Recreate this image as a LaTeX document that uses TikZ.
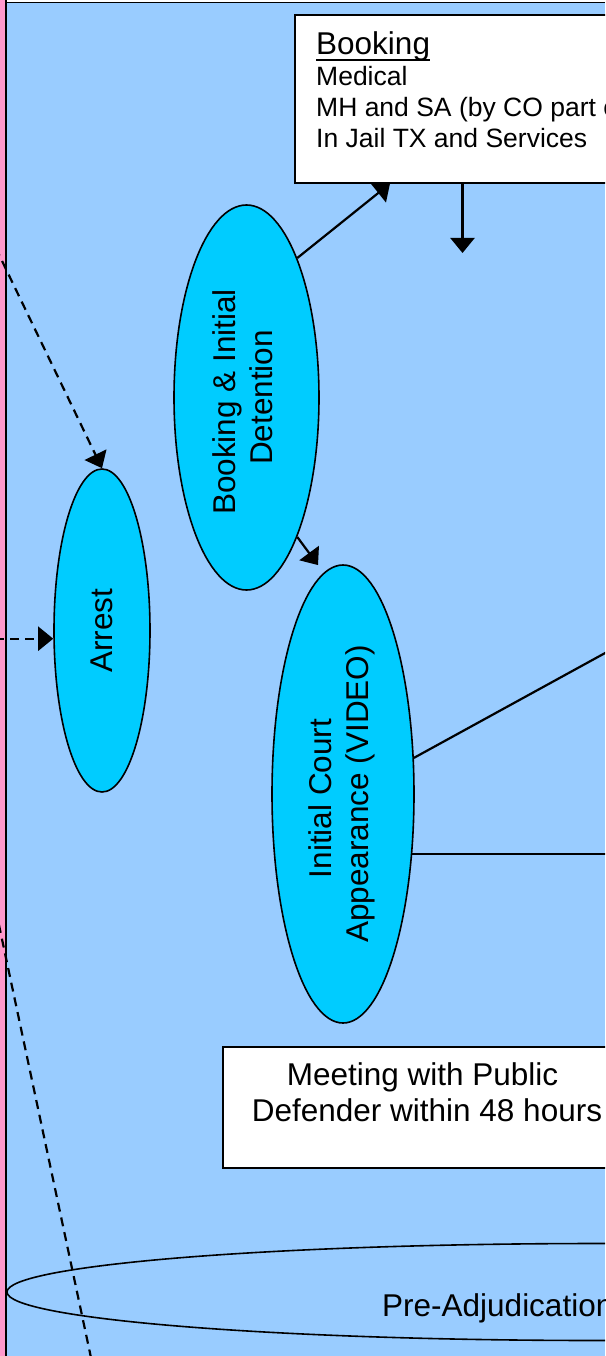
\documentclass[tikz,border=0pt]{standalone}
\usepackage{fontspec}
\setmainfont{Liberation Sans}
\usetikzlibrary{arrows.meta,shapes.geometric}
\definecolor{bgblue}{HTML}{99CCFF}
\definecolor{elblue}{HTML}{00CCFF}
\definecolor{stripc}{HTML}{FF99CC}
\newsavebox\ulbox
\newcommand\myul[1]{\leavevmode\sbox\ulbox{#1}\rlap{\rule[-6.3pt]{\wd\ulbox}{2pt}}\usebox\ulbox}
\begin{document}
\begin{tikzpicture}[x=1pt,y=-1pt,
  oval/.style={ellipse, draw, line width=1.6pt, fill=elblue, inner sep=0pt},
  lbl/.style={font=\fontsize{31.5}{37}\selectfont},
  boxst/.style={draw, line width=1.6pt, fill=white, inner sep=0pt},
  arr/.style={line width=2.2pt, -{Triangle[length=15pt,width=24pt]}},
  dsh/.style={line width=2.2pt, dash pattern=on 9pt off 6pt},
  plain/.style={line width=2.2pt}]
\useasboundingbox (0,0) rectangle (605,1356);
\clip (0,0) rectangle (605,1356);
% background
\fill[stripc] (0,0) rectangle (6.5,1356);
\fill[white] (6.5,0) rectangle (605,2.7);
\fill[bgblue] (6.5,2.7) rectangle (605,1356);
\draw[line width=1.4pt] (6.5,2.7) -- (605,2.7);
\draw[line width=2.2pt] (6.2,0) -- (6.2,1356);
% boxes
\node[boxst, anchor=north west, minimum width=426pt, minimum height=168pt] (booking) at (294,14) {};
\node[anchor=base west, inner sep=0pt] (bookingtxt) at (316,55) {\begin{minipage}[t]{400pt}\fontsize{31.5}{31}\selectfont\myul{Booking}\par\fontsize{26.5}{31}\selectfont Medical\par MH and SA (by CO part of\par In Jail TX and Services\end{minipage}};
\node[boxst, anchor=north west, minimum width=408pt, minimum height=121pt] (meeting) at (222,1046) {};
\node[anchor=base, inner sep=0pt, font=\fontsize{31.5}{36.7}\selectfont] (meetingtxt) at (427,1085) {\begin{minipage}[t]{400pt}\centering Meeting with Public\kern8.8pt\\Defender within 48 hours\end{minipage}};
% ellipses
\node[oval, lbl, minimum width=145pt, minimum height=385pt] (bid) at (246.5,397.5) {\rotatebox{90}{\begin{tabular}{@{}c@{}}Booking \& Initial\kern8.8pt\\Detention\end{tabular}}};
\node[oval, font=\fontsize{31.5}{36.7}\selectfont, minimum width=142pt, minimum height=458pt] (ica) at (343,794) {\rotatebox{90}{\begin{tabular}{@{}c@{}}Initial Court\kern8.8pt\\Appearance (VIDEO)\end{tabular}}};
\node[oval, lbl, minimum width=96pt, minimum height=323pt] (arrest) at (102,630.5) {\rotatebox{90}{Arrest}};
\node[ellipse, draw, line width=1.6pt, inner sep=0pt, minimum width=1186pt, minimum height=97pt] (preadj) at (600,1292) {};
\node[lbl, anchor=base west, inner sep=0pt] (preadjtxt) at (382,1316.5) {Pre-Adjudication};
% connectors
\draw[arr] (bid.70) -- ([xshift=96pt]booking.south west);
\coordinate (downend) at (462.5,253);
\draw[arr] ([xshift=168.5pt]booking.south west) -- (downend);
\draw[arr, shorten >=9.5pt] (bid.-70) -- (ica.95);
\coordinate (r1) at (650,628.4);
\draw[plain] (ica.27) -- (r1);
\coordinate (r2) at (650,854);
\draw[plain] (ica.-41.2) -- (ica.-41.2 -| r2);
% dashed
\coordinate (d1s) at (-37,180);
\draw[arr, dsh] (d1s) -- (arrest.north);
\coordinate (d2s) at (-20,638.7);
\draw[arr, dsh] (d2s) -- (d2s -| arrest.west);
\coordinate (d3s) at (-10.6,880);
\coordinate (d3e) at (100,1400);
\draw[dsh] (d3s) -- (d3e);
\end{tikzpicture}
\end{document}
